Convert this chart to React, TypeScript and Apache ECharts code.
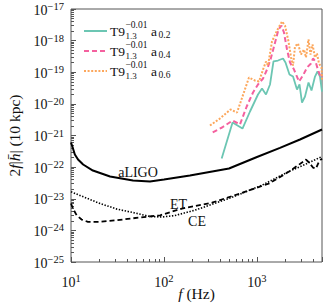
import React, { useEffect, useRef } from 'react';
import * as echarts from 'echarts';

// ---------------- data ----------------
const aligoFreq = [10, 10.5, 11, 11.9, 13.5, 17.2, 26.3, 46.4, 70.7, 100, 190, 500, 1000, 1766, 2900, 5000];
const aligoH = [6.0e-22, 3.9e-22, 2.5e-22, 1.74e-22, 1.21e-22, 7.8e-23, 5.05e-23, 3.78e-23, 3.51e-23, 4.06e-23, 5.43e-23, 9.05e-23, 2.09e-22, 4.07e-22, 7.48e-22, 1.55e-21];

const etFreq = [10, 10.5, 11.5, 13, 15.2, 20.5, 31, 55, 91, 156, 328, 690, 1336, 2193, 3047, 3365, 3625, 4000, 4305, 4642, 5000];
const etH = [7.1e-24, 4.9e-24, 3.0e-24, 2.2e-24, 1.87e-24, 1.87e-24, 2.1e-24, 2.55e-24, 3.0e-24, 4.9e-24, 7.5e-24, 1.54e-23, 3.0e-23, 7.1e-23, 1.4e-22, 1.74e-22, 1.4e-22, 9.7e-23, 9.0e-23, 1.5e-22, 1.87e-22];

const ceFreq = [10, 14.1, 20.5, 31.2, 46.4, 70.7, 95, 131, 215, 500, 1132, 2208, 3282, 5000];
const ceH = [1.66e-23, 1.1e-23, 7.1e-24, 4.7e-24, 3.67e-24, 2.75e-24, 2.65e-24, 2.95e-24, 4.35e-24, 1.02e-23, 2.68e-23, 7.3e-23, 1.21e-22, 2.17e-22];

const a02Freq = [417, 546, 698, 841, 1025, 1132, 1250, 1380, 1504, 1682, 1905, 2025, 2235, 2440, 2692, 2865, 3047, 3282, 3580, 3855, 4205, 4475, 4757, 5000];
const a02H = [1.86e-22, 2.58e-21, 1.66e-21, 5.74e-21, 1.98e-20, 3.06e-20, 1.98e-20, 4.1e-20, 2.19e-19, 2.35e-19, 2.72e-19, 2.03e-19, 8.5e-20, 7.3e-20, 2.85e-20, 4.1e-20, 1.1e-20, 1.71e-20, 4.74e-20, 2.65e-20, 7.3e-20, 1.06e-19, 7.3e-20, 2.46e-20];

const a04Freq = [334, 421, 546, 656, 775, 906, 1025, 1161, 1282, 1397, 1524, 1703, 1834, 1950, 2103, 2264, 2500, 2830, 3162, 3450, 3808, 4000, 4256, 4584, 4878, 5000];
const a04H = [1.25e-21, 1.79e-21, 2.98e-21, 2.23e-21, 8.26e-21, 2.29e-20, 4.1e-20, 6.34e-20, 1.22e-19, 2.53e-19, 6.52e-19, 2.25e-18, 3.01e-18, 1.81e-18, 5.24e-19, 2.03e-19, 1.22e-19, 5.1e-20, 8.5e-20, 1.41e-19, 1.89e-19, 2.72e-19, 2.19e-19, 1.06e-19, 6.82e-20, 7.9e-20];

const a06Freq = [312, 400, 519, 610, 820, 951, 1052, 1161, 1250, 1313, 1449, 1641, 1857, 2000, 2182, 2323, 2440, 2562, 2761, 2972, 3200, 3365, 3580, 3760, 3954, 4205, 4416, 4642, 4943, 5000];
const a06H = [2.07e-21, 3.45e-21, 6.64e-21, 5.33e-21, 6.82e-20, 5.48e-20, 5.1e-20, 1.22e-19, 2.19e-19, 1.63e-19, 9.38e-19, 2.09e-18, 4.03e-18, 3.01e-18, 9.38e-19, 2.93e-19, 1.63e-19, 6.52e-19, 8.11e-19, 3.64e-19, 5.24e-19, 2.93e-19, 1.09e-18, 3.64e-19, 7.54e-19, 2.93e-19, 3.92e-19, 1.89e-19, 1.41e-19, 5.9e-20];

const xTickExponents = [1, 2, 3];
const yTickExponents = [-25, -24, -23, -22, -21, -20, -19, -18, -17];
const legendSubscripts = ['0.2', '0.4', '0.6'];
const detectorNames = ['aLIGO', 'ET', 'CE'];

const X_MIN = 10;
const X_MAX = 5000;
const Y_MIN = 1e-25;
const Y_MAX = 1e-17;

// ---------------- styling ----------------
const FONT = "'Liberation Serif', 'DejaVu Serif', serif";
const TXT = '#111';
const AX = '#555';
const TEAL = '#6cc6b3';
const PINK = '#f4619f';
const ORANGE = '#fca75c';
const G = { left: 71, right: 2, top: 9, bottom: 45 };

const zip = (xs: number[], ys: number[]) => xs.map((x, i) => [x, ys[i]]);
const minus = (n: number) => (n < 0 ? '\u2212' + Math.abs(n) : String(n));

const minorTicks = (lo: number, hi: number) => {
  const out: number[] = [];
  for (let d = Math.floor(lo); d < hi; d++) {
    for (let k = 2; k <= 9; k++) {
      const v = d + Math.log10(k);
      if (v > lo && v < hi) out.push(v);
    }
  }
  return out;
};

const powRich = {
  b: { fontSize: 14, fontFamily: FONT, color: TXT, lineHeight: 16, verticalAlign: 'bottom' },
  s: { fontSize: 10.5, fontFamily: FONT, color: TXT, lineHeight: 10, verticalAlign: 'top' },
};

const titleRich = {
  n: { fontSize: 15.5, fontFamily: FONT, color: TXT },
  i: { fontSize: 15.5, fontFamily: FONT, color: TXT, fontStyle: 'italic' },
};

export default function App() {
  const ref = useRef<HTMLDivElement>(null);
  useEffect(() => {
    document.body.style.margin = '0';
    const chart = echarts.init(ref.current!, null, { renderer: 'svg' });
    const xHi = Math.log10(X_MAX);
    const xLo = Math.log10(X_MIN);
    const yLo = Math.log10(Y_MIN);
    const yHi = Math.log10(Y_MAX);

    const graphic: any[] = [];
    // annotations
    const annPos = [
      [138, 172],
      [178.5, 204],
      [197, 221.5],
    ];
    detectorNames.forEach((t, i) => {
      graphic.push({
        type: 'text',
        x: annPos[i][0],
        y: annPos[i][1],
        style: { text: t, fontSize: 14, fontFamily: FONT, fill: TXT, textAlign: 'center', textVerticalAlign: 'middle' },
      });
    });
    // legend
    const legColors = [TEAL, PINK, ORANGE];
    const legDash: any[] = [null, [5, 3], [2, 1.6]];
    legendSubscripts.forEach((sub, i) => {
      const y = 31 + i * 20;
      graphic.push({
        type: 'line',
        shape: { x1: 84, y1: y, x2: 107, y2: y },
        style: { stroke: legColors[i], lineWidth: 2, lineDash: legDash[i] || undefined },
      });
      const t = (text: string, x: number, yy: number, size: number) => ({
        type: 'text',
        x,
        y: yy,
        style: { text, fontSize: size, fontFamily: FONT, fill: TXT, textAlign: 'left', textVerticalAlign: 'middle' },
      });
      graphic.push(t('T9', 110, y, 13.5));
      graphic.push(t('1.3', 125.5, y + 4.5, 9));
      graphic.push(t('\u22120.01', 125.5, y - 6.5, 9.5));
      graphic.push(t('a', 151, y, 13.5));
      graphic.push(t(sub, 158.5, y + 4, 9.5));
    });

    const option: any = {
      animation: false,
      backgroundColor: '#fff',
      grid: [
        { ...G, show: true, borderColor: AX, borderWidth: 1, backgroundColor: 'transparent', containLabel: false, outerBoundsMode: 'none' },
        { ...G, show: false, containLabel: false, outerBoundsMode: 'none' },
        { ...G, show: false, containLabel: false, outerBoundsMode: 'none' },
      ],
      xAxis: [
        { gridIndex: 0, type: 'log', logBase: 10, min: X_MIN, max: X_MAX, show: false },
        {
          gridIndex: 1,
          type: 'value',
          min: xLo,
          max: xHi,
          interval: 1,
          axisLine: { show: false },
          axisTick: { inside: true, length: 5, lineStyle: { color: AX, width: 1 } },
          splitLine: { show: false },
          axisLabel: {
            margin: 11,
            formatter: (v: number) => {
              const r = Math.round(v);
              return Math.abs(v - r) < 1e-6 && xTickExponents.includes(r) ? `{b|10}{s|${minus(r)}}` : '';
            },
            rich: powRich,
          },
          name: '{i|f}{n| (Hz)}',
          nameLocation: 'middle',
          nameGap: 23,
          nameMoveOverlap: false,
          nameTextStyle: { rich: titleRich },
        },
        {
          gridIndex: 2,
          type: 'value',
          min: xLo,
          max: xHi,
          axisLine: { show: false },
          axisTick: { inside: true, length: 3, lineStyle: { color: AX, width: 1 }, customValues: minorTicks(xLo, xHi) },
          axisLabel: { show: false },
          splitLine: { show: false },
        },
      ],
      yAxis: [
        { gridIndex: 0, type: 'log', logBase: 10, min: Y_MIN, max: Y_MAX, show: false },
        {
          gridIndex: 1,
          type: 'value',
          min: yLo,
          max: yHi,
          interval: 1,
          axisLine: { show: false },
          axisTick: { inside: true, length: 5, lineStyle: { color: AX, width: 1 } },
          splitLine: { show: false },
          axisLabel: {
            margin: 7,
            formatter: (v: number) => {
              const r = Math.round(v);
              return yTickExponents.includes(r) ? `{b|10}{s|${minus(r)}}` : '';
            },
            rich: powRich,
          },
          name: '{n|2}{i|f}{n||}{i|h\u0304}{n|| (10 kpc)}',
          nameLocation: 'middle',
          nameRotate: 90,
          nameGap: 49,
          nameMoveOverlap: false,
          nameTextStyle: { rich: titleRich },
        },
        {
          gridIndex: 2,
          type: 'value',
          min: yLo,
          max: yHi,
          axisLine: { show: false },
          axisTick: { inside: true, length: 3, lineStyle: { color: AX, width: 1 }, customValues: minorTicks(yLo, yHi) },
          axisLabel: { show: false },
          splitLine: { show: false },
        },
      ],
      series: [
        { name: 'aLIGO', type: 'line', xAxisIndex: 0, yAxisIndex: 0, data: zip(aligoFreq, aligoH), showSymbol: false, lineStyle: { color: '#000', width: 2 } },
        { name: 'ET', type: 'line', xAxisIndex: 0, yAxisIndex: 0, data: zip(etFreq, etH), showSymbol: false, lineStyle: { color: '#000', width: 1.8, type: [5, 3] } },
        { name: 'CE', type: 'line', xAxisIndex: 0, yAxisIndex: 0, data: zip(ceFreq, ceH), showSymbol: false, lineStyle: { color: '#000', width: 1.6, type: [1.4, 1.6] } },
        { name: 'T9_1.3^-0.01 a_0.2', type: 'line', xAxisIndex: 0, yAxisIndex: 0, data: zip(a02Freq, a02H), showSymbol: false, lineStyle: { color: TEAL, width: 1.8 } },
        { name: 'T9_1.3^-0.01 a_0.4', type: 'line', xAxisIndex: 0, yAxisIndex: 0, data: zip(a04Freq, a04H), showSymbol: false, lineStyle: { color: PINK, width: 2, type: [5, 3] } },
        { name: 'T9_1.3^-0.01 a_0.6', type: 'line', xAxisIndex: 0, yAxisIndex: 0, data: zip(a06Freq, a06H), showSymbol: false, lineStyle: { color: ORANGE, width: 2, type: [2, 1.6] } },
      ],
      graphic,
    };
    chart.setOption(option);
    return () => chart.dispose();
  }, []);
  return <div ref={ref} style={{ width: 324, height: 307 }} />;
}
